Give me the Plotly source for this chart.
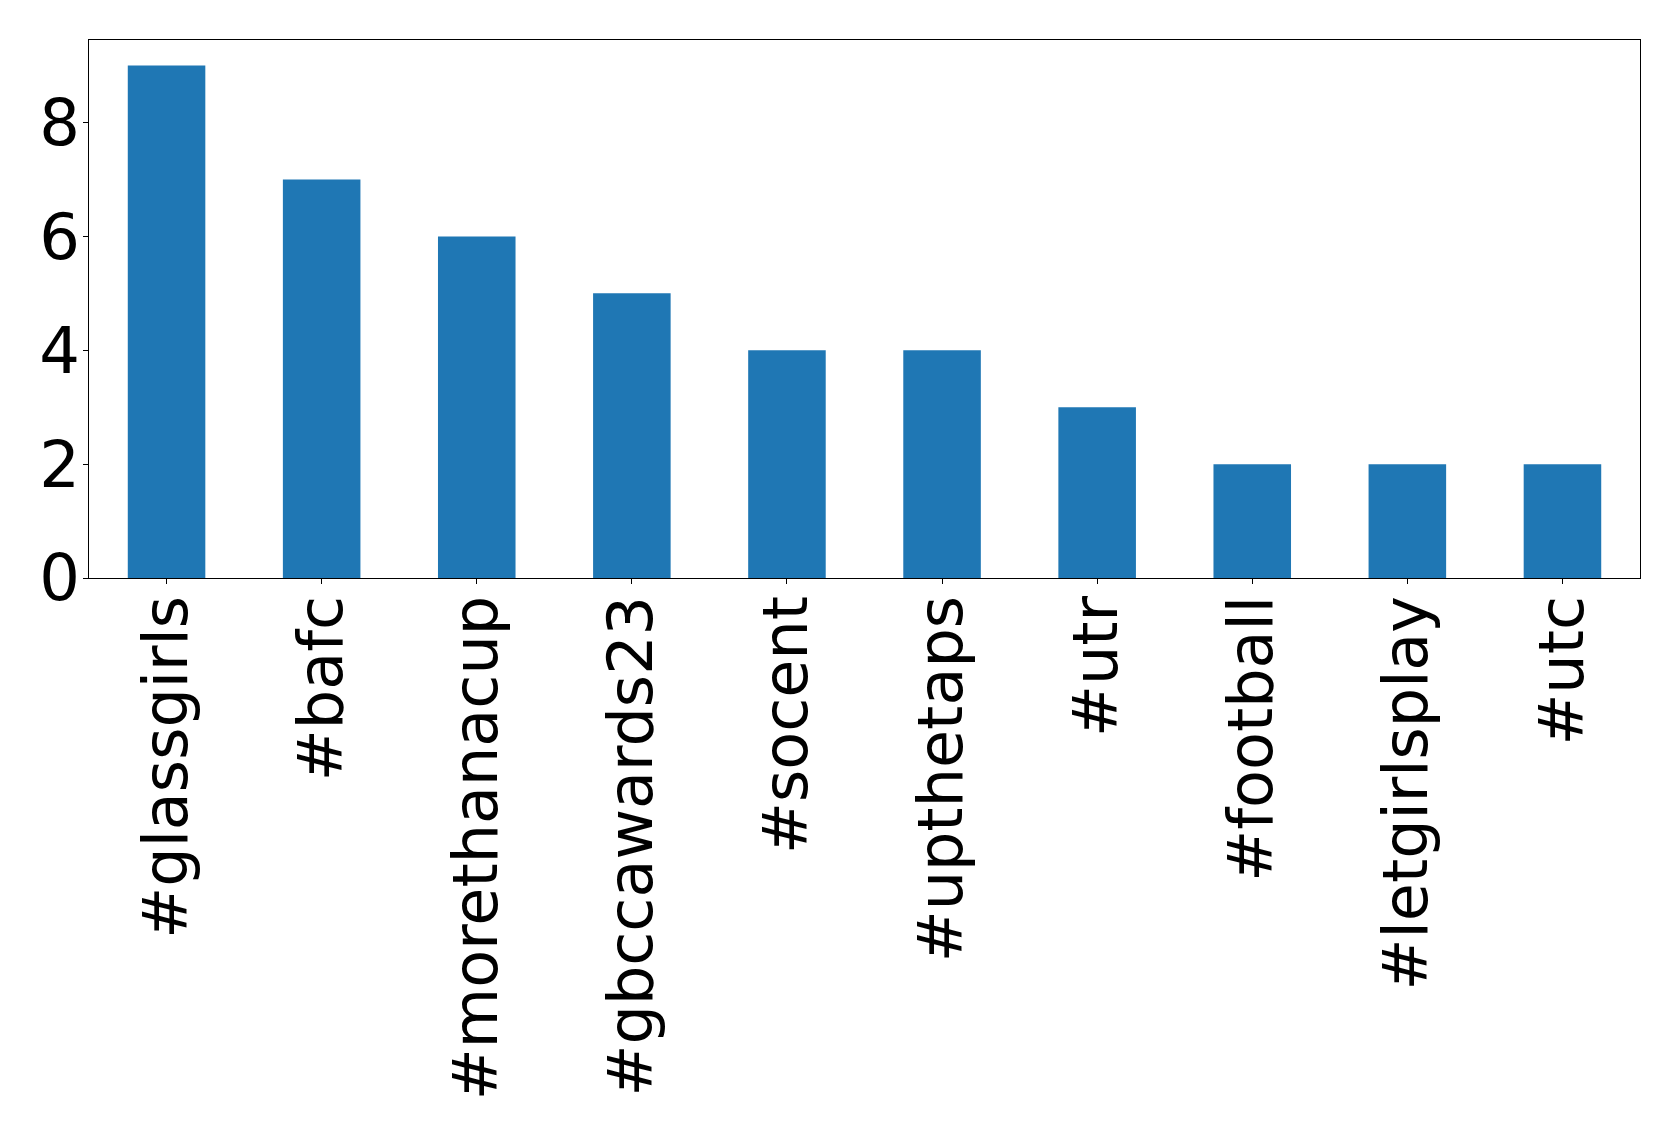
import plotly.graph_objects as go

categories = ["#glassgirls", "#bafc", "#morethanacup", "#gbccawards23", "#socent",
              "#upthetaps", "#utr", "#football", "#letgirlsplay", "#utc"]
counts = [9, 7, 6, 5, 4, 4, 3, 2, 2, 2]

fig = go.Figure(go.Bar(x=categories, y=counts, marker_color="#1f77b4", marker_line_width=0))

# page body has an 8px margin, so the figure is offset by 8px
W, H = 1671, 1128
fig.update_layout(
    width=W, height=H,
    margin=dict(l=81, r=39, t=32, b=558, pad=0),
    paper_bgcolor="white", plot_bgcolor="white",
    bargap=0.5,
    showlegend=False,
    font=dict(family="DejaVu Sans", size=62, color="black"),
)
fig.update_xaxes(
    range=[-0.5, 9.5], tickangle=-90, ticks="outside", ticklen=5, tickwidth=1,
    tickcolor="black", showline=True, linecolor="black", linewidth=1.3, mirror=True,
    showgrid=False, zeroline=False, tickfont=dict(size=62), ticklabelstandoff=-13,
)
fig.update_yaxes(
    range=[0, 9.45], tickvals=[0, 2, 4, 6, 8], ticks="outside", ticklen=5, tickwidth=1,
    tickcolor="black", showline=True, linecolor="black", linewidth=1.3, mirror=True,
    showgrid=False, zeroline=False, tickfont=dict(size=64), ticklabelstandoff=-10,
)
fig.write_html("out.html", config={"displayModeBar": False})
